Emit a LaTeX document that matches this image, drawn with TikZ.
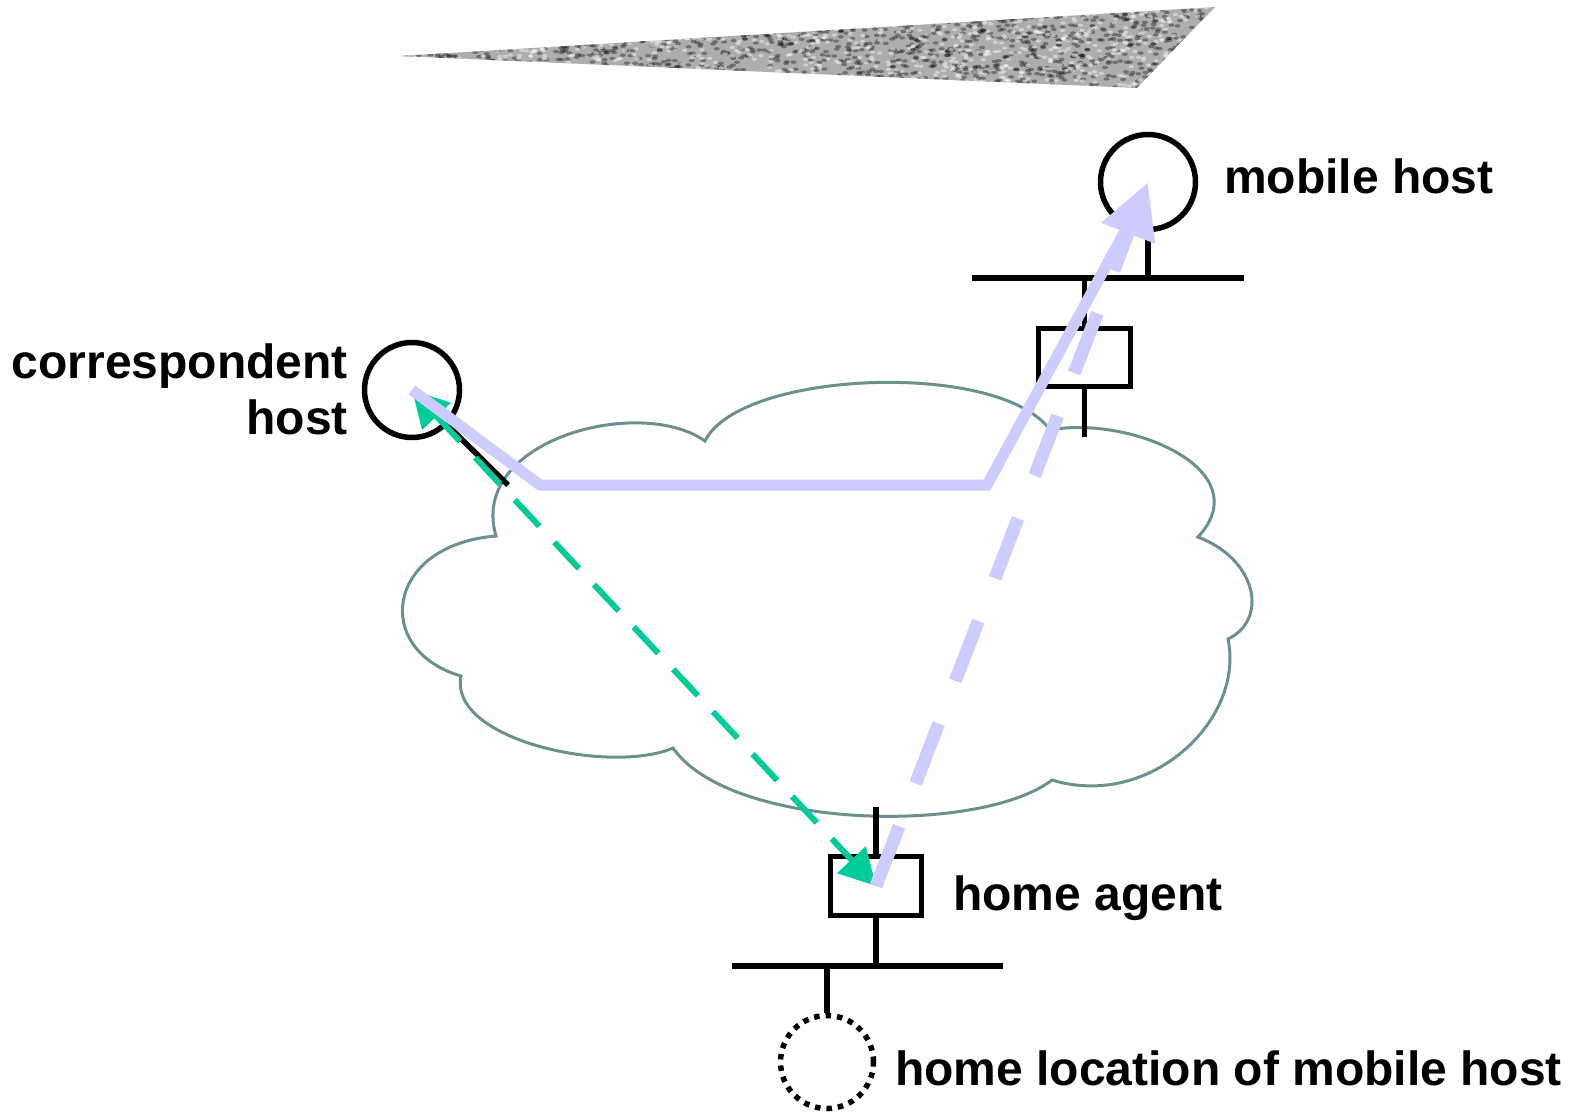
\documentclass[tikz,border=0pt]{standalone}
\usepackage{fontspec}
\setmainfont{Liberation Sans}
\usetikzlibrary{arrows.meta}
\definecolor{cloudc}{HTML}{6A9090}
\definecolor{lav}{HTML}{CCCCFF}
\definecolor{grn}{HTML}{00CC99}
\definecolor{wedgegray}{HTML}{ADADAD}
\begin{document}
\begin{tikzpicture}[x=1pt,y=-1pt,
  blk/.style={draw=black, line width=5.5pt},
  hostc/.style={circle, draw=black, line width=5.5pt, minimum size=95pt, inner sep=0pt},
  routerbox/.style={rectangle, draw=black, line width=5.5pt, minimum width=92pt, minimum height=58pt, inner sep=0pt},
  lbl/.style={font=\fontsize{48}{56}\selectfont\bfseries, inner sep=0pt},
  cloudline/.style={draw=cloudc, line width=3pt},
  greenarrow/.style={draw=grn, line width=6pt, dash pattern=on 36pt off 22pt,
     {Triangle[length=36pt,width=38pt]}-{Triangle[length=36pt,width=38pt]}},
  lavsolid/.style={draw=lav, line width=11pt},
  lavdash/.style={draw=lav, line width=13pt, dash pattern=on 64pt off 46pt,
     -{Triangle[length=55pt,width=54pt]}}
]
\useasboundingbox (0,0) rectangle (1571,1114);
\fill[white] (0,0) rectangle (1571,1114);

% textured wedge
\begin{scope}
  \clip (399,56) -- (1215,7) -- (1137,88) -- cycle;
  \fill[wedgegray] (399,56) -- (1215,7) -- (1137,88) -- cycle;
  \pgfmathsetseed{42}
  \foreach \i in {1,...,1600}{
    \pgfmathsetmacro{\xx}{399+816*rnd}
    \pgfmathsetmacro{\yy}{5+85*rnd}
    \fill[black, opacity=0.35] (\xx,\yy) ellipse (3 and 1.7);
  }
  \foreach \i in {1,...,1100}{
    \pgfmathsetmacro{\xx}{399+816*rnd}
    \pgfmathsetmacro{\yy}{5+85*rnd}
    \fill[white, opacity=0.45] (\xx,\yy) ellipse (2.6 and 1.6);
  }
\end{scope}

% cloud
\draw[cloudline] (496,536) .. controls (468,440) and (640,395) .. (705,441)
 .. controls (740,370) and (1000,360) .. (1050,430)
 .. controls (1130,415) and (1260,470) .. (1198,537)
 .. controls (1258,560) and (1268,620) .. (1228,639)
 .. controls (1245,720) and (1150,810) .. (1052,780)
 .. controls (980,835) and (730,830) .. (673,748)
 .. controls (610,775) and (448,740) .. (461,676)
 .. controls (372,650) and (385,545) .. (496,536) -- cycle;

% correspondent host
\node[hostc] (chost) at (412,390) {};
\coordinate (chstub) at (508,485);
\draw[blk] (chost) -- (chstub);

% mobile host and foreign network
\node[hostc] (mhost) at (1148,182) {};
\coordinate (mbusL) at (972,278);
\coordinate (mbusR) at (1244,278);
\coordinate (mhtap) at (1148,278);
\coordinate (frtap) at (1084.5,278);
\coordinate (frdown) at (1084.5,437);
\node[routerbox] (frouter) at (1084.5,357.5) {};
\draw[blk] (mhost) -- (mhtap);
\draw[blk] (mbusL) -- (mbusR);
\draw[blk] (frouter.north) -- (frtap);
\draw[blk] (frouter.south) -- (frdown);

% home agent and home network
\node[routerbox, minimum width=91pt, minimum height=59pt] (ha) at (876,886) {};
\coordinate (haup) at (876,807);
\coordinate (hatap) at (876,966);
\coordinate (hbusL) at (732,966);
\coordinate (hbusR) at (1003,966);
\coordinate (hltap) at (827,966);
\node[circle, draw=black, line width=5.5pt, dash pattern=on 5.5pt off 6pt, minimum size=93pt, inner sep=0pt] (hloc) at (827,1062) {};
\draw[blk] (ha.north) -- (haup);
\draw[blk] (ha.south) -- (hatap);
\draw[blk] (hbusL) -- (hbusR);
\draw[blk] (hltap) -- (hloc);

% green dashed double arrow
\draw[greenarrow] (chost.center) -- (ha.center);

% lavender paths
\coordinate (lc1) at (540,485);
\coordinate (lc2) at (987,485);
\coordinate (lc3) at (1125,231);
\draw[lavsolid] (chost.center) -- (lc1) -- (lc2) -- (lc3);
\draw[lavdash] (ha.center) -- (mhost.center);

% labels
\node[lbl, anchor=base west] (mhlabel) at (1224,193) {mobile host};
\node[lbl, anchor=base east, align=right] (chlabel) at (348,434) {correspondent\\host};
\node[lbl, anchor=base west] (halabel) at (953,910) {home agent};
\node[lbl, anchor=base west] (hllabel) at (895,1085) {home location of mobile host};
\end{tikzpicture}
\end{document}
